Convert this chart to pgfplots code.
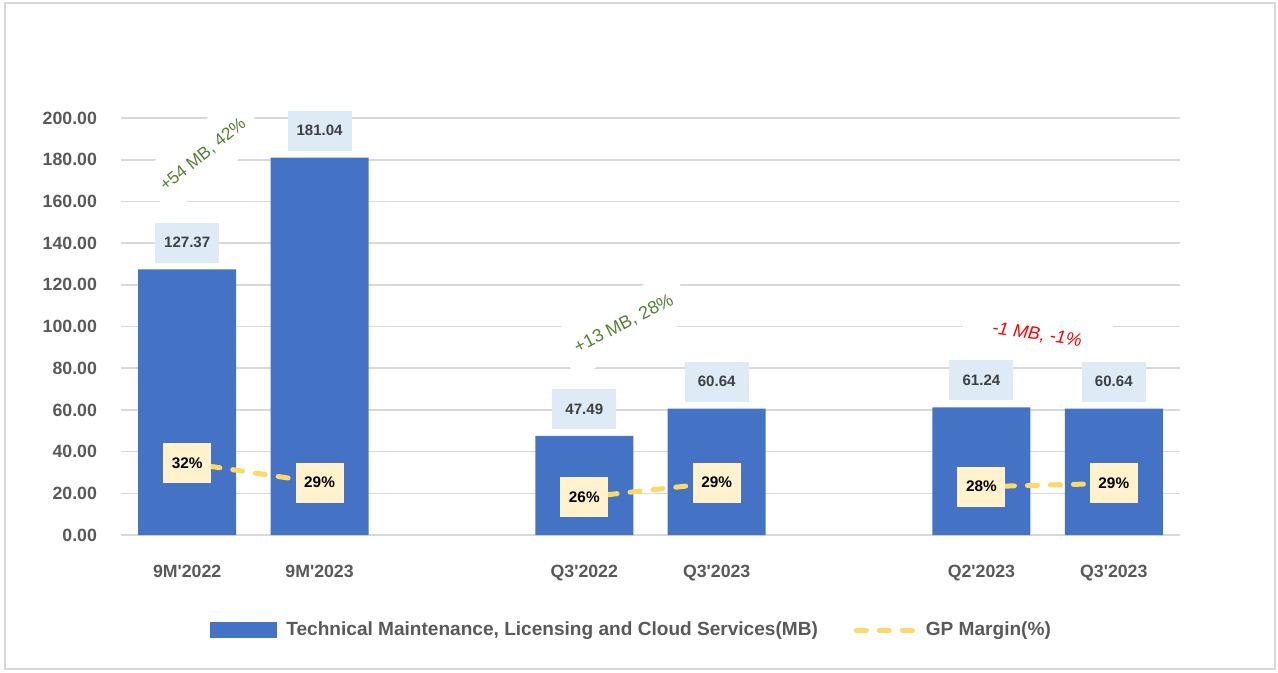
\documentclass[border=0pt]{standalone}
\usepackage{fontspec}
\setmainfont{Liberation Sans}[Ligatures=TeXOff]
\usepackage{pgfplots}
\pgfplotsset{compat=1.18}
\definecolor{barblue}{HTML}{4472C4}
\definecolor{labelblue}{HTML}{DEEBF7}
\definecolor{cream}{HTML}{FFF2CC}
\definecolor{lineyellow}{HTML}{FFD966}
\definecolor{tickgray}{HTML}{595959}
\definecolor{datagray}{HTML}{404040}
\definecolor{anngreen}{HTML}{548235}
\definecolor{gridgray}{HTML}{D9D9D9}
\pgfplotsset{
  gpline/.style={color=lineyellow, line width=3.75pt, dash pattern=on 7.5pt off 9.75pt, line cap=round, mark=none,
    nodes near coords={\pgfplotspointmeta}, point meta=explicit symbolic,
    every node near coord/.append style={anchor=center, fill=cream, text=black, inner sep=0pt,
      minimum width=36pt, minimum height=30pt, font=\fontsize{11.5pt}{13pt}\selectfont\bfseries}},
  gplegend/.style={legend image code/.code={\draw[lineyellow, line width=3.75pt, dash pattern=on 7.5pt off 9.75pt, line cap=round] (1.875pt,0pt) -- (44.6pt,0pt); \path[draw=none, fill=none] (0pt,0pt) -- (52pt,0pt);}},
  barlegend/.style={legend image code/.code={\fill[barblue] (0pt,-6pt) rectangle (50.25pt,6pt); \path[draw=none, fill=none] (0pt,0pt) -- (55pt,0pt);}},
}
\begin{document}
\begin{tikzpicture}
\path[use as bounding box] (0,0) rectangle (958.5pt,504pt);
\draw[color=gridgray, line width=1.5pt] (3.75pt,2.25pt) rectangle (956.25pt,501.75pt);
\begin{axis}[
  at={(90.75pt,102.75pt)}, anchor=south west,
  scale only axis, width=794.25pt, height=312.75pt,
  xmin=-0.5, xmax=7.5, ymin=0, ymax=200,
  axis line style={draw=none},
  major tick length=0pt,
  ytick={0,20,...,200},
  ymajorgrids, grid style={color=gridgray, line width=1.2pt},
  xtick={0,1,3,4,6,7},
  xticklabels={9M'2022,9M'2023,Q3'2022,Q3'2023,Q2'2023,Q3'2023},
  /pgf/number format/fixed, /pgf/number format/fixed zerofill,
  /pgf/number format/precision=2, /pgf/number format/assume math mode=true,
  tick label style={font=\fontsize{13.3pt}{15pt}\selectfont\bfseries, text=tickgray},
  yticklabel style={xshift=-14.5pt},
  xticklabel style={anchor=base, yshift=-32pt},
  clip=false,
  legend columns=-1,
  legend style={at={(0.4825,-0.228)}, anchor=center, draw=none, fill=none,
    font=\fontsize{14.3pt}{16pt}\selectfont\bfseries, text=tickgray,
    /tikz/every even column/.append style={column sep=25pt}},
]
\addplot[ybar, bar width=73.5pt, fill=barblue, draw=none,
  nodes near coords,
  every node near coord/.append style={anchor=south, yshift=5pt, fill=labelblue, text=datagray,
    inner sep=0pt, minimum width=48pt, minimum height=30pt, font=\fontsize{11.3pt}{13pt}\selectfont\bfseries},
  barlegend]
  coordinates {(0,127.37) (1,181.04) (3,47.49) (4,60.64) (6,61.24) (7,60.64)};
\addlegendentry{Technical Maintenance, Licensing and Cloud Services(MB)}
\addlegendimage{gplegend}
\addlegendentry{GP Margin(\%)}
\node[rotate=39, fill=white, text=anngreen, font=\fontsize{13pt}{15pt}\selectfont, inner xsep=8pt, inner ysep=14pt]
  at (axis cs:0.12,182.3) {+54 MB, 42\%};
\node[rotate=27, fill=white, text=anngreen, font=\fontsize{13.5pt}{15pt}\selectfont, inner xsep=10pt, inner ysep=14pt]
  at (axis cs:3.3,101.2) {+13 MB, 28\%};
\node[rotate=-8, fill=white, text=red, font=\fontsize{13.5pt}{15pt}\selectfont\itshape, inner xsep=22pt, inner ysep=12pt]
  at (axis cs:6.42,95.9) {-1 MB, -1\%};
\end{axis}
\begin{axis}[
  at={(90.75pt,102.75pt)}, anchor=south west,
  scale only axis, width=794.25pt, height=312.75pt,
  xmin=-0.5, xmax=7.5, ymin=21, ymax=84,
  hide axis, clip=false,
]
\addplot[gpline] coordinates {(0,31.9) [32\%] (1,28.9) [29\%]};
\addplot[gpline] coordinates {(3,26.7) [26\%] (4,28.9) [29\%]};
\addplot[gpline] coordinates {(6,28.3) [28\%] (7,28.8) [29\%]};
\end{axis}
\end{tikzpicture}
\end{document}
